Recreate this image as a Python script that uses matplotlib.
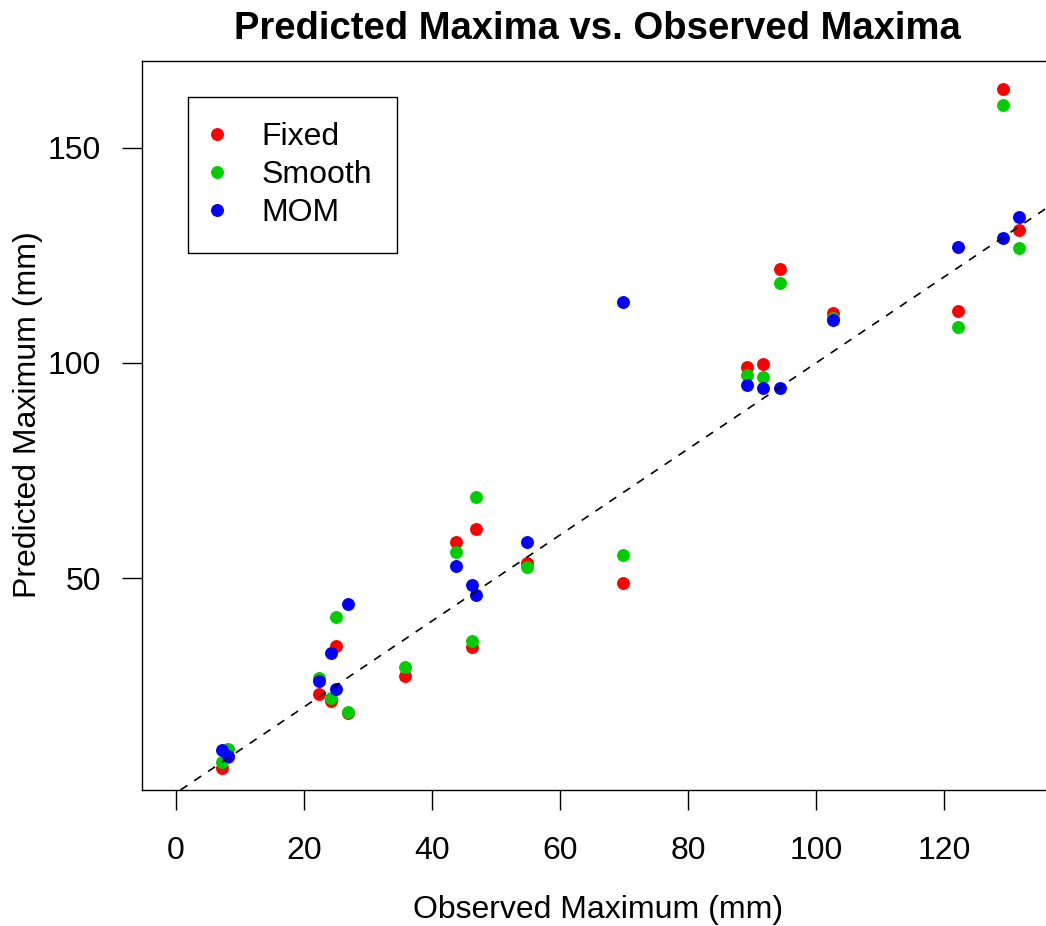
import numpy as np
import matplotlib
matplotlib.use("Agg")
import matplotlib.pyplot as plt
from matplotlib.lines import Line2D

plt.rcParams['font.family'] = ['Liberation Sans', 'DejaVu Sans']

# ---- data ----
observed = [7.2, 8.1, 22.3, 24.2, 25.0, 26.9, 35.8, 43.8, 46.3, 46.9,
            54.8, 69.8, 89.2, 91.7, 94.4, 102.7, 122.2, 129.2, 131.7]
fixed = [5.9, 8.4, 23.0, 21.3, 34.1, 18.5, 27.2, 58.4, 33.9, 61.4,
         53.4, 48.8, 99.1, 99.8, 121.9, 111.6, 112.1, 163.7, 130.9]
smooth = [7.2, 10.2, 26.7, 22.2, 41.0, 18.9, 29.3, 56.0, 35.3, 68.8,
          52.6, 55.3, 97.2, 96.7, 118.6, 110.4, 108.4, 160.0, 126.7]
mom = [10.0, 8.6, 26.0, 32.6, 24.1, 44.0, np.nan, 52.8, 48.4, 46.0,
       58.4, 114.2, 94.9, 94.2, 94.2, 110.0, 127.0, 129.1, 134.0]

series_names = ["Fixed", "Smooth", "MOM"]
series_colors = ["#FF0000", "#00CD00", "#0000FF"]
x_ticks = [0, 20, 40, 60, 80, 100, 120]
y_ticks = [50, 100, 150]

W, H = 1046, 926
fig = plt.figure(figsize=(W / 100, H / 100), dpi=100)
ax = fig.add_axes([142 / W, (H - 790) / H, (W - 142) / W, (790 - 61) / H])

for vals, col in zip([fixed, smooth, mom], series_colors):
    ax.plot(observed, vals, linestyle='none', marker='o', markersize=9.3,
            color=col, markeredgewidth=0)

ax.axline((0, 0), slope=1, color='black', linestyle=(0, (5, 5)), linewidth=1.2)

ax.set_xlim(-5.3125, 135.9375)
ax.set_ylim(0.70, 170.23)
ax.set_xticks(x_ticks)
ax.set_yticks(y_ticks)
ax.tick_params(direction='out', length=14.4, width=1, labelsize=23,
               colors='black')
ax.tick_params(axis='x', pad=19)
ax.tick_params(axis='y', pad=15)
for s in ['left', 'bottom', 'top']:
    ax.spines[s].set_linewidth(1)
ax.spines['right'].set_visible(False)

fig.text(597 / W, 1 - 39 / H, "Predicted Maxima vs. Observed Maxima",
         ha='center', va='baseline', fontsize=27.5, fontweight='bold')
fig.text(598 / W, 1 - 918 / H, "Observed Maximum (mm)", ha='center',
         va='baseline', fontsize=23)
fig.text(28 / W, 1 - 415 / H, "Predicted Maximum (mm)", ha='center',
         va='center', rotation=90, fontsize=23)

handles = [Line2D([], [], linestyle='none', marker='o', markersize=9.3,
                  color=c, markeredgewidth=0) for c in series_colors]
leg = ax.legend(handles, series_names, loc='upper left',
                bbox_to_anchor=(188 / W, 1 - 97 / H),
                bbox_transform=fig.transFigure, fontsize=23,
                frameon=True, fancybox=False, edgecolor='black',
                framealpha=1, borderpad=0.78, labelspacing=0.25,
                handlelength=0.25, handletextpad=1.28, borderaxespad=0)
leg.get_frame().set_linewidth(1)

fig.savefig("out.png", dpi=100)
